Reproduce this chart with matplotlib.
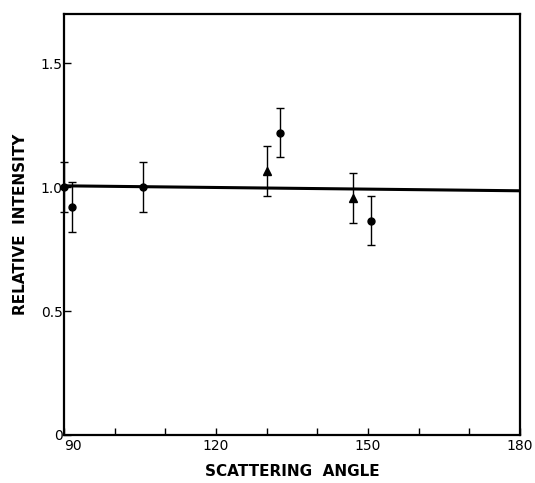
import matplotlib
matplotlib.use("Agg")
import matplotlib.pyplot as plt
import numpy as np

# circles
circ_angle = [90.0, 91.5, 105.5, 132.6, 150.6]
circ_int = [1.00, 0.92, 1.00, 1.22, 0.865]
circ_err = [0.10, 0.10, 0.10, 0.10, 0.10]

# triangles
tri_angle = [130.1, 147.0]
tri_int = [1.065, 0.955]
tri_err = [0.10, 0.10]

# fitted line
fit_angle = [90.0, 180.0]
fit_int = [1.005, 0.985]

xticks = [90, 120, 150, 180]
yticks = [0, 0.5, 1.0, 1.5]
yticklabels = ["0", "0.5", "1.0", "1.5"]

plt.rcParams["font.family"] = ["DejaVu Sans"]

fig = plt.figure(figsize=(5.35, 4.83), dpi=100)
ax = fig.add_axes([0.1196, 0.0994, 0.8526, 0.8726])

ax.plot(fit_angle, fit_int, color="black", lw=2.2, zorder=2)
ax.errorbar(circ_angle, circ_int, yerr=circ_err, fmt="o", color="black",
            ms=5, elinewidth=1.0, capsize=3, capthick=1.0, zorder=3,
            clip_on=False)
ax.errorbar(tri_angle, tri_int, yerr=tri_err, fmt="^", color="black",
            ms=6, elinewidth=1.0, capsize=3, capthick=1.0, zorder=3,
            clip_on=False)

ax.set_xlim(90, 180)
ax.set_ylim(0, 1.7)
ax.set_xticks(xticks)
ax.set_xticks(np.arange(90, 181, 10), minor=True)
ax.set_yticks(yticks)
ax.set_yticklabels(yticklabels)
ax.tick_params(axis="both", which="both", direction="in", length=5,
               width=1.0, labelsize=10)
ax.tick_params(axis="x", which="major", pad=3)
ax.tick_params(axis="y", which="major", pad=1)
ax.get_xticklabels()[0].set_horizontalalignment("left")
for s in ax.spines.values():
    s.set_linewidth(1.6)

ax.set_xlabel("SCATTERING  ANGLE", fontsize=11, fontweight="bold", labelpad=8)
ax.set_ylabel("RELATIVE  INTENSITY", fontsize=11, fontweight="bold", labelpad=9)

fig.savefig("out.png", dpi=100)
